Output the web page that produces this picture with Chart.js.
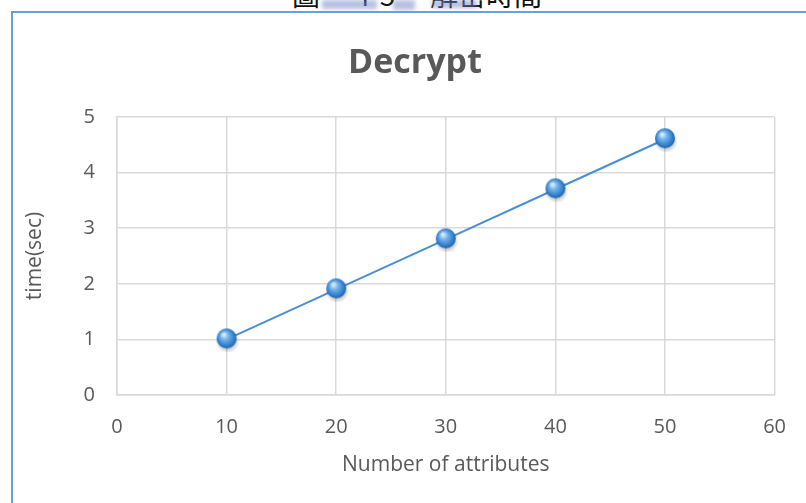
<!DOCTYPE html>
<html>
<head>
<meta charset="utf-8">
<script src="https://cdn.jsdelivr.net/npm/chart.js@4/dist/chart.umd.min.js"></script>
<style>
  html, body { margin: 0; padding: 0; background: #fff; overflow: hidden; }
  body { width: 806px; height: 503px; position: relative; }
  #caption {
    position: absolute; left: 292px; top: -20px; width: 250px;
    display: flex; justify-content: space-between;
    font: 28px/28px "Noto Sans CJK TC", sans-serif; color: #111; white-space: nowrap;
  }
  .mark { position: absolute; background: rgba(120, 140, 200, 0.55); filter: blur(2px); }
  #frame {
    position: absolute; left: 11px; top: 11px; width: 900px; height: 600px;
    border-top: 2px solid #6a9fd8; border-left: 2px solid #6a9fd8;
  }
  #grafico { position: absolute; left: 0; top: 0; }
</style>
</head>
<body>
<div id="caption"><span>圖</span><span>4-5</span><span>解密時間</span></div>
<div class="mark" style="left:322px;top:0;width:55px;height:9px"></div>
<div class="mark" style="left:393px;top:0;width:22px;height:10px"></div>
<div class="mark" style="left:432px;top:0;width:45px;height:8px"></div>
<div id="frame"></div>
<canvas id="grafico" width="806" height="503"></canvas>
<script>
// dados do gráfico
const atributos = [10, 20, 30, 40, 50];
const tempos = [1.0, 1.9, 2.8, 3.7, 4.6];
const ticksX = [0, 10, 20, 30, 40, 50, 60];
const ticksY = [0, 1, 2, 3, 4, 5];

// marcador em forma de esfera azul
function criarEsfera() {
  const c = document.createElement('canvas');
  c.width = 26; c.height = 26;
  const ctx = c.getContext('2d');
  // sombra
  const sombra = ctx.createRadialGradient(14, 15, 4, 14, 15, 12);
  sombra.addColorStop(0, 'rgba(0,0,0,0.35)');
  sombra.addColorStop(1, 'rgba(0,0,0,0)');
  ctx.fillStyle = sombra;
  ctx.beginPath(); ctx.arc(14, 15, 12, 0, Math.PI * 2); ctx.fill();
  // corpo
  const g = ctx.createRadialGradient(10, 8, 1, 13, 12, 11);
  g.addColorStop(0, '#d6ecfc');
  g.addColorStop(0.3, '#74b4ee');
  g.addColorStop(0.75, '#2f7dca');
  g.addColorStop(1, '#1c5a9c');
  ctx.fillStyle = g;
  ctx.beginPath(); ctx.arc(13, 12, 10, 0, Math.PI * 2); ctx.fill();
  return c;
}

const cinza = '#595959';
const fonte = 'Open Sans';

// o título fica centrado na moldura inteira, não só na área do gráfico
const centrarTitulo = {
  id: 'centrarTitulo',
  afterLayout(chart) {
    chart.titleBlock.left = 24;
    chart.titleBlock.right = 806;
  }
};

new Chart(document.getElementById('grafico'), {
  type: 'line',
  data: {
    datasets: [{
      data: atributos.map((a, i) => ({ x: a, y: tempos[i] })),
      borderColor: '#4a8fd6',
      borderWidth: 2,
      pointStyle: criarEsfera(),
      pointRadius: 10,
      pointHoverRadius: 10,
      tension: 0
    }]
  },
  plugins: [centrarTitulo],
  options: {
    responsive: false,
    devicePixelRatio: 1,
    animation: false,
    layout: { padding: { left: 20, right: 30, top: 43, bottom: 20 } },
    plugins: {
      legend: { display: false },
      tooltip: { enabled: false },
      title: {
        display: true,
        text: 'Decrypt',
        color: cinza,
        font: { family: fonte, size: 34, weight: 'bold' },
        padding: { top: 0, bottom: 33.2 }
      }
    },
    scales: {
      x: {
        type: 'linear',
        min: ticksX[0],
        max: ticksX[ticksX.length - 1],
        afterBuildTicks: s => { s.ticks = ticksX.map(v => ({ value: v })); },
        afterFit: s => { s.height = 88; },
        ticks: { color: cinza, font: { family: fonte, size: 20 }, padding: 20, maxRotation: 0 },
        grid: { color: '#d9d9d9', lineWidth: 1.5, drawTicks: false },
        border: { color: '#d9d9d9', width: 1.5 },
        title: {
          display: true,
          text: 'Number of attributes',
          color: cinza,
          font: { family: fonte, size: 21 },
          padding: { top: 0, bottom: 5.4 }
        }
      },
      y: {
        min: ticksY[0],
        max: ticksY[ticksY.length - 1],
        afterBuildTicks: s => { s.ticks = ticksY.map(v => ({ value: v })); },
        afterFit: s => { s.width = 97; },
        ticks: { color: cinza, font: { family: fonte, size: 20 }, padding: 22 },
        grid: { color: '#d9d9d9', lineWidth: 1.5, drawTicks: false },
        border: { color: '#d9d9d9', width: 1.5 },
        title: {
          display: true,
          text: 'time(sec)',
          color: cinza,
          font: { family: fonte, size: 21 },
          padding: { top: 2.4, bottom: 0 }
        }
      }
    }
  }
});
</script>
</body>
</html>
